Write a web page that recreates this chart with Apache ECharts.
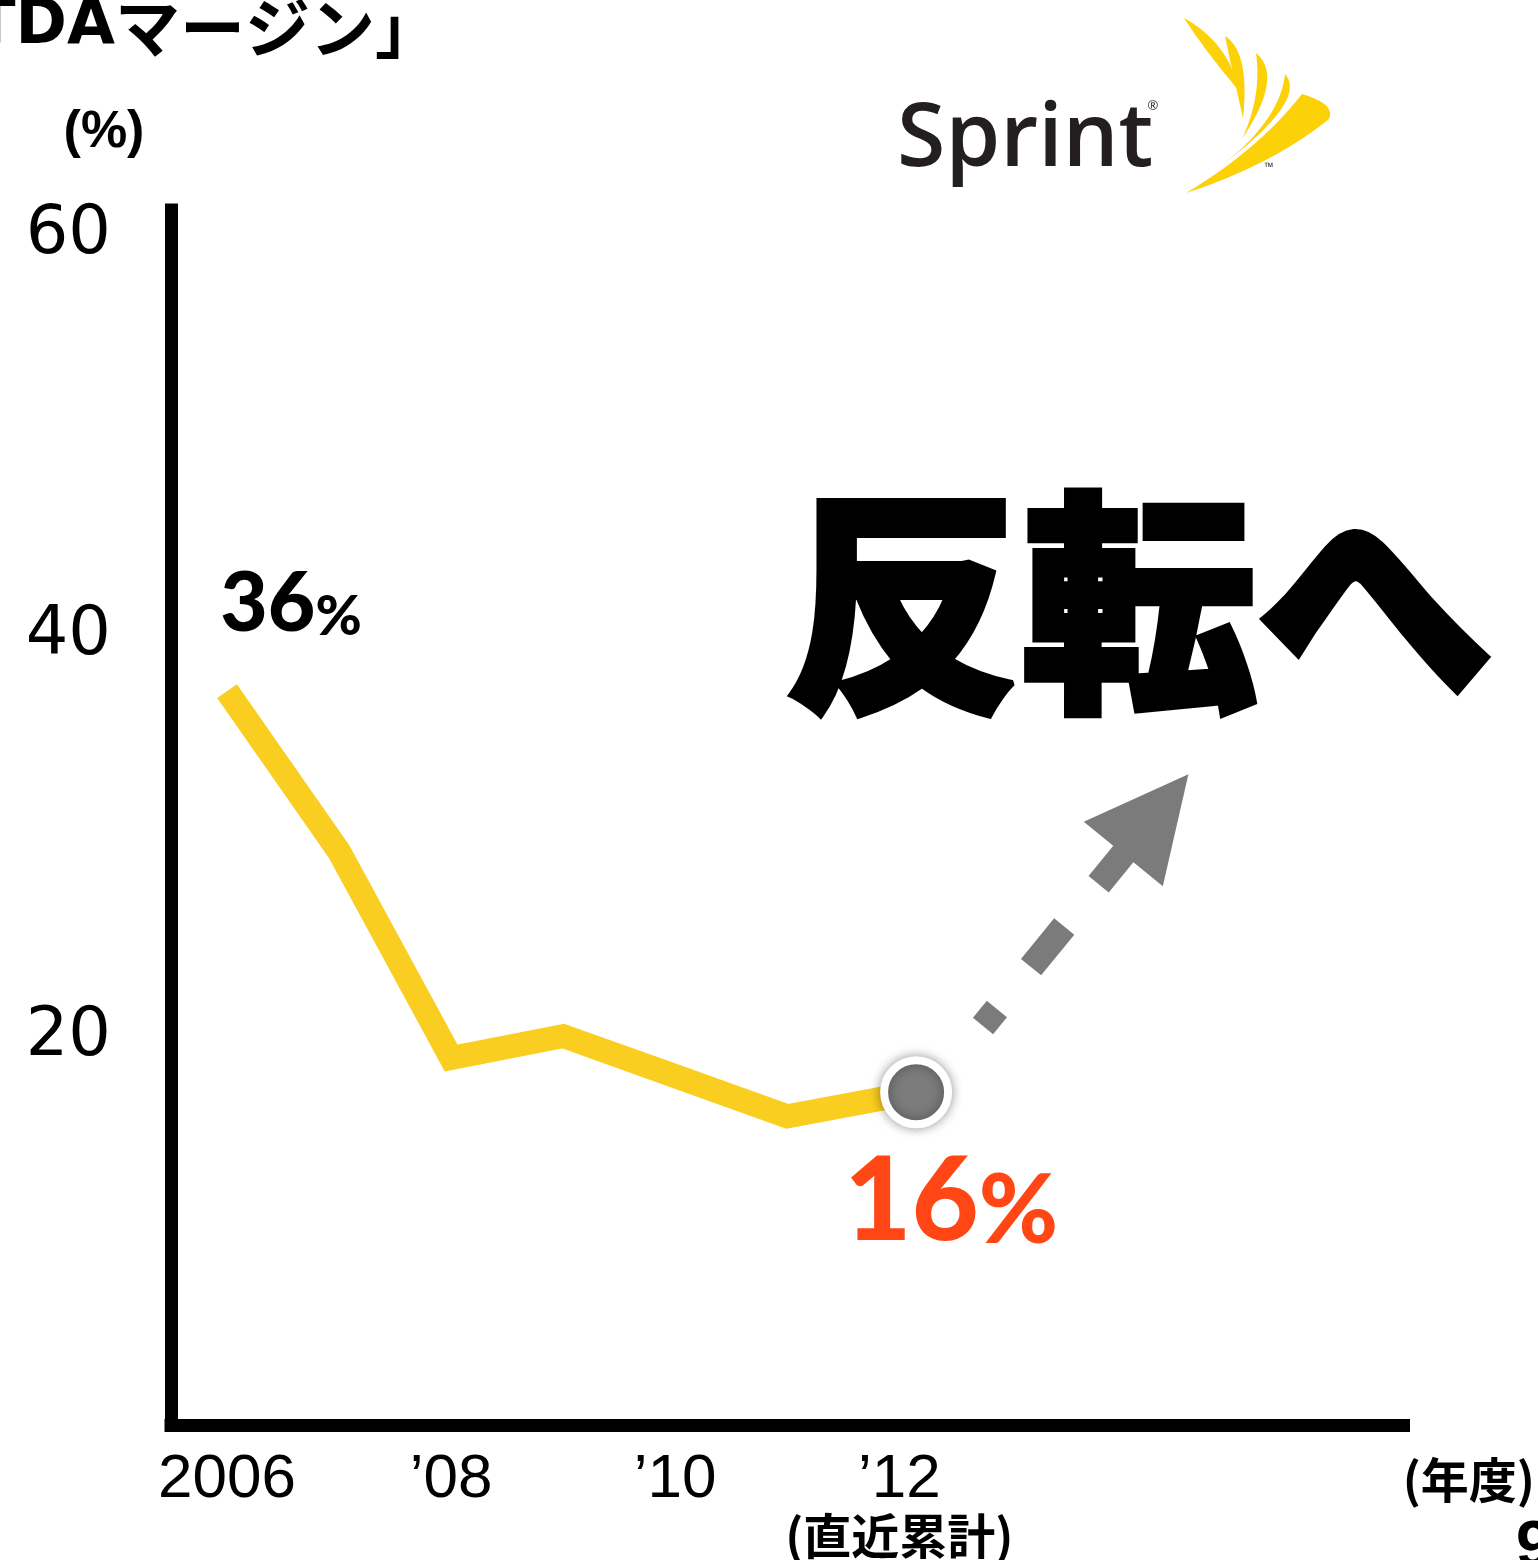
<!DOCTYPE html>
<html>
<head>
<meta charset="utf-8">
<script src="https://cdn.jsdelivr.net/npm/echarts@6/dist/echarts.min.js"></script>
<style>
  html, body { margin: 0; padding: 0; background: #ffffff; }
  #chart { width: 1538px; height: 1560px; }
</style>
</head>
<body>
<div id="chart"></div>
<script>
// EBITDA margin by fiscal year; the last point is the trailing cumulative figure
const years = [2006, 2007, 2008, 2009, 2010, 2011, 2012.15];
const margins = [36, 28, 17.7, 18.8, 16.8, 14.8, 16];
const yTickValues = [20, 40, 60];
const xTickLabels = { 2006: '2006', 2008: '’08', 2010: '’10', 2012: '’12' };
const latestNote = '(直近累計)';
const titleLatin = '「EBITDA';
const titleKana = 'マージン」';
const unitText = '(%)';
const yearUnitText = '(年度)';
const headline = '反転へ';
const pageNo = '9';

const YELLOW = '#F9CE21';
const GREY = '#7b7b7b';
const ACCENT = '#FF4614';
const LOGO_YELLOW = '#FCD107';

const chart = echarts.init(document.getElementById('chart'), null, { renderer: 'canvas' });

// ---- helpers for decorative shapes ----
function quadPoints(p0, c, p1, steps) {
  const pts = [];
  for (let i = 0; i <= steps; i++) {
    const t = i / steps, m = 1 - t;
    pts.push([m * m * p0[0] + 2 * m * t * c[0] + t * t * p1[0],
              m * m * p0[1] + 2 * m * t * c[1] + t * t * p1[1]]);
  }
  return pts;
}
function blade(a, cOuter, b, cInner) {
  const outer = quadPoints(a, cOuter, b, 24);
  const inner = quadPoints(b, cInner, a, 24);
  return {
    type: 'polygon', silent: true,
    shape: { points: outer.concat(inner.slice(1)) },
    style: { fill: LOGO_YELLOW }
  };
}

// dashed "upturn" arrow, laid out along its own direction
const arrowStart = [983, 1026];
const dir = [0.632, -0.775];
const nrm = [0.775, 0.632];
function along(a, s) {
  return [arrowStart[0] + a * dir[0] + s * nrm[0], arrowStart[1] + a * dir[1] + s * nrm[1]];
}
function bar(a0, a1, hw) {
  return {
    type: 'polygon', silent: true,
    shape: { points: [along(a0, -hw), along(a1, -hw), along(a1, hw), along(a0, hw)] },
    style: { fill: GREY }
  };
}
const arrowParts = [
  bar(0, 22, 13),
  bar(76, 128.5, 13),
  bar(183, 226, 13),
  { type: 'polygon', silent: true,
    shape: { points: [along(222, -51), along(325, 0), along(222, 51)] },
    style: { fill: GREY } }
];

const logoWings = [
  blade([1184, 18], [1228, 42], [1240, 92], [1206, 52]),
  blade([1225, 36], [1250, 52], [1243, 118], [1232, 70]),
  blade([1256, 53], [1284, 76], [1242, 139], [1262, 96]),
  blade([1285, 74], [1308, 100], [1222, 165], [1280, 120]),
  {
    type: 'polygon', silent: true,
    shape: {
      points: quadPoints([1186, 193], [1272, 165], [1329, 119], 30)
        .concat(quadPoints([1329, 119], [1336, 104], [1302, 94], 10).slice(1))
        .concat(quadPoints([1302, 94], [1258, 150], [1186, 193], 30).slice(1))
    },
    style: { fill: LOGO_YELLOW }
  }
];

const option = {
  animation: false,
  backgroundColor: '#ffffff',
  grid: { left: 171, right: 134.5, top: 210, bottom: 134.5, containLabel: false },
  xAxis: {
    type: 'value',
    min: 2005.5, max: 2016.5, interval: 0.5,
    axisLine: { show: true, onZero: false, lineStyle: { color: '#000', width: 13, cap: 'square' } },
    axisTick: { show: false },
    splitLine: { show: false },
    axisLabel: {
      margin: 24,
      color: '#000',
      formatter: function (v) {
        const r = Math.round(v);
        if (Math.abs(v - r) > 1e-6 || !xTickLabels[r]) return '';
        if (r === 2012) return '{a|' + xTickLabels[r] + '}\n{b|' + latestNote + '}';
        return '{a|' + xTickLabels[r] + '}';
      },
      rich: {
        a: { fontSize: 62, lineHeight: 62, fontFamily: 'Liberation Sans, Arial, sans-serif', color: '#000' },
        b: { fontSize: 48, lineHeight: 50, fontWeight: 'bold', fontFamily: 'Noto Sans CJK JP', color: '#000' }
      }
    }
  },
  yAxis: {
    type: 'value',
    min: -0.6, max: 60, interval: 0.2,
    axisLine: { show: true, onZero: false, lineStyle: { color: '#000', width: 13, cap: 'square' } },
    axisTick: { show: false },
    splitLine: { show: false },
    axisLabel: {
      margin: 60,
      fontSize: 67,
      lineHeight: 52,
      verticalAlign: 'top',
      fontFamily: 'DejaVu Sans, sans-serif',
      color: '#000',
      formatter: function (v) {
        for (const t of yTickValues) { if (Math.abs(v - t) < 1e-6) return String(t); }
        return '';
      }
    }
  },
  series: [{
    type: 'line',
    silent: true,
    data: years.map(function (y, i) {
      const item = { value: [y, margins[i]] };
      if (i === 0) {
        item.label = {
          show: true, position: 'inside', offset: [64, -87],
          formatter: function (p) { return '{n|' + p.value[1] + '}{p|%}'; },
          rich: {
            n: { fontSize: 82, fontWeight: 900, fontFamily: 'Lato, sans-serif', color: '#000', verticalAlign: 'bottom', lineHeight: 82 },
            p: { fontSize: 56, fontWeight: 900, fontFamily: 'Lato, sans-serif', color: '#000', verticalAlign: 'bottom', lineHeight: 70 }
          }
        };
      }
      if (i === years.length - 1) {
        item.symbolSize = 64;
        item.itemStyle = {
          color: GREY, borderColor: '#ffffff', borderWidth: 8,
          shadowBlur: 12, shadowColor: 'rgba(0,0,0,0.35)'
        };
        item.label = {
          show: true, position: 'inside', offset: [35, 110],
          formatter: function (p) { return '{n|' + p.value[1] + '}{p|%}'; },
          rich: {
            n: { fontSize: 116, fontWeight: 900, fontFamily: 'Lato, sans-serif', color: ACCENT, verticalAlign: 'bottom', lineHeight: 116 },
            p: { fontSize: 96, fontWeight: 900, fontFamily: 'Lato, sans-serif', color: ACCENT, verticalAlign: 'bottom', lineHeight: 108 }
          }
        };
      }
      return item;
    }),
    symbol: 'circle',
    symbolSize: 0,
    showSymbol: true,
    lineStyle: { color: YELLOW, width: 24, cap: 'butt', join: 'miter' },
    itemStyle: { color: YELLOW },
    emphasis: { disabled: true },
    z: 3
  }],
  graphic: [
    { type: 'text', silent: true, x: 440, y: 27,
      style: { text: '{l|' + titleLatin + '}{k|' + titleKana + '}', align: 'right', verticalAlign: 'middle',
               rich: {
                 l: { fontSize: 62, fontWeight: 'bold', fontFamily: 'DejaVu Sans, sans-serif', fill: '#000', lineHeight: 66 },
                 k: { fontSize: 65, fontWeight: 'bold', fontFamily: 'Noto Sans CJK JP', fill: '#000', lineHeight: 66 }
               } } },
    { type: 'text', silent: true, x: 104, y: 133,
      style: { text: unitText, align: 'center', verticalAlign: 'middle',
               fontSize: 52, fontWeight: 'bold', fontFamily: 'Liberation Sans, Arial, sans-serif', fill: '#000' } },
    { type: 'text', silent: true, x: 1139, y: 603,
      style: { text: headline, align: 'center', verticalAlign: 'middle',
               fontSize: 236, fontWeight: 900, fontFamily: 'Noto Sans CJK JP', fill: '#000',
               stroke: '#000', lineWidth: 6 } },
    { type: 'text', silent: true, x: 1535, y: 1480,
      style: { text: yearUnitText, align: 'right', verticalAlign: 'middle',
               fontSize: 48, fontWeight: 'bold', fontFamily: 'Noto Sans CJK JP', fill: '#000' } },
    { type: 'text', silent: true, x: 1516, y: 1548,
      style: { text: pageNo, align: 'left', verticalAlign: 'middle',
               fontSize: 64, fontWeight: 'bold', fontFamily: 'Liberation Sans, Arial, sans-serif', fill: '#000' } },
    // Sprint wordmark
    { type: 'text', silent: true, x: 897, y: 141,
      style: { text: 'Sprint', align: 'left', verticalAlign: 'middle',
               fontSize: 88, fontWeight: 600, fontFamily: 'Open Sans, sans-serif', fill: '#231f20' } },
    { type: 'text', silent: true, x: 1153, y: 106,
      style: { text: '®', align: 'center', verticalAlign: 'middle',
               fontSize: 13, fontFamily: 'Open Sans, sans-serif', fill: '#231f20' } },
    { type: 'text', silent: true, x: 1269, y: 168,
      style: { text: '™', align: 'center', verticalAlign: 'middle',
               fontSize: 12, fontFamily: 'Open Sans, sans-serif', fill: '#231f20' } }
  ].concat(logoWings).concat(arrowParts)
};

chart.setOption(option);
</script>
</body>
</html>
